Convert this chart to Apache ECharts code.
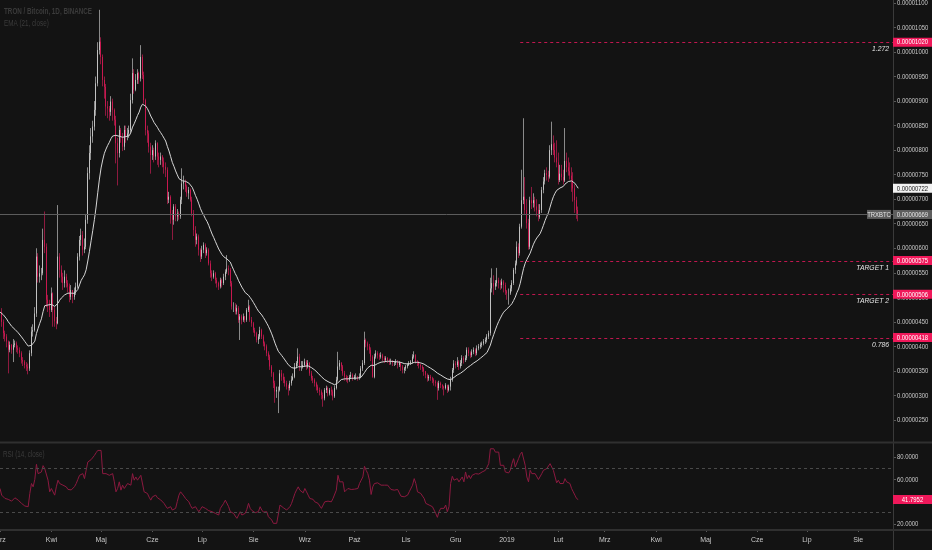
<!DOCTYPE html>
<html>
<head>
<meta charset="utf-8">
<script src="https://cdn.jsdelivr.net/npm/echarts@6/dist/echarts.min.js"></script>
<style>
html,body{margin:0;padding:0;background:#131313;}
#c{width:932px;height:550px;}
</style>
</head>
<body>
<div id="c"></div>
<script>
// ---- data (prices in 1e-8 BTC) ----
const startDate = '2018-03-01';
const totalDays = 540;
const firstOpen = 480;
const closes = [
470,450,427,420,410,393,403,393,403,406,
396,393,386,372,369,362,359,355,386,430,
433,467,583,542,549,549,617,603,495,488,
474,508,474,451,447,583,556,542,529,542,
529,522,501,515,501,512,522,583,617,627,
597,603,658,753,794,828,848,882,936,1004,
1021,990,943,929,889,885,878,899,882,862,
814,794,841,828,807,841,828,834,841,902,
957,923,943,957,946,990,953,902,841,834,
807,790,800,787,814,787,780,787,777,766,
760,699,705,671,658,685,665,671,665,699,
732,736,726,712,719,699,671,637,617,624,
597,583,597,607,590,597,569,549,542,549,
535,529,522,535,529,542,552,559,556,529,
481,481,471,478,454,461,454,461,454,474,
481,454,447,433,427,413,420,433,420,406,
400,386,379,359,345,325,308,311,311,345,
338,332,325,318,315,325,332,338,359,366,
379,359,359,362,369,359,366,345,335,332,
325,318,311,308,301,294,311,315,304,311,
308,298,315,332,359,366,359,345,338,335,
332,338,342,335,338,338,335,338,355,366,
413,406,400,393,379,338,379,386,382,379,
382,376,372,376,372,369,369,366,366,369,
362,366,359,352,355,359,362,366,369,379,
382,369,366,362,359,355,349,342,335,338,
335,332,328,325,315,325,321,318,315,321,
311,318,332,352,365,362,369,359,366,376,
372,376,393,386,382,389,393,386,396,400,
403,406,410,413,420,427,518,529,522,529,
535,529,525,532,525,512,508,508,518,529,
556,569,603,590,644,698,705,678,651,603,
698,692,698,685,678,664,678,719,736,753,
749,746,800,812,800,785,775,739,752,745,
738,778,765,757,748,740,722,698,678,669
];
const highs = [
490,478,455,432,425,412,410,405,415,412,
410,402,398,390,378,372,368,365,392,440,
445,480,600,590,565,560,640,675,610,505,
495,520,510,480,460,688,590,565,550,555,
548,535,528,525,515,520,530,590,625,640,
635,620,670,765,810,845,860,900,950,1020,
1086,1030,995,950,935,900,890,910,905,885,
870,825,850,845,835,850,850,845,850,915,
987,965,955,965,960,1014,995,960,905,850,
840,815,810,805,820,816,795,795,790,785,
775,765,715,708,678,690,690,680,675,705,
763,748,740,730,725,722,705,678,645,630,
628,600,605,612,610,602,600,575,555,555,
552,540,532,540,538,548,557,586,565,560,
533,490,488,485,482,466,465,467,462,478,
495,484,460,450,438,430,425,440,436,424,
410,404,390,383,362,348,330,318,318,352,
352,345,338,330,322,330,340,345,366,370,
396,385,370,370,375,372,372,368,350,340,
335,328,322,316,312,306,315,320,318,315,
318,312,320,338,389,372,368,362,350,342,
340,342,348,345,342,345,340,345,360,372,
430,416,410,405,398,382,385,392,390,386,
388,385,380,380,378,375,375,372,370,374,
372,370,368,362,358,362,366,370,372,384,
390,384,372,370,365,362,358,350,345,342,
342,338,335,331,328,330,328,323,320,325,
322,322,338,356,372,370,378,372,372,382,
380,382,398,398,390,394,398,396,402,405,
408,410,415,418,425,432,540,559,545,535,
560,540,535,538,535,530,515,518,525,535,
560,575,614,610,650,760,865,745,700,660,
705,725,712,705,700,690,690,725,745,760,
765,758,810,858,830,815,820,795,770,770,
760,845,795,785,775,765,755,730,705,685
];
const lows = [
455,440,415,410,398,345,388,385,368,398,
388,385,378,365,360,355,350,343,350,380,
420,430,460,530,530,535,545,590,480,470,
460,470,440,440,435,445,540,530,515,520,
520,510,490,495,488,495,505,518,575,605,
585,590,598,650,740,780,815,840,870,930,
995,975,930,905,870,865,860,870,860,850,
773,728,785,815,798,800,815,820,825,835,
895,915,920,935,935,940,945,895,830,815,
795,752,780,775,780,770,765,770,765,752,
745,690,692,650,617,648,655,655,658,660,
690,720,715,705,700,695,665,625,603,608,
585,572,578,590,580,585,565,540,533,538,
528,520,515,518,520,525,535,548,545,522,
475,470,465,465,448,413,445,450,448,450,
470,450,440,428,420,408,405,415,415,400,
392,380,372,352,338,315,285,295,264,308,
330,325,318,312,300,310,320,330,335,355,
360,350,350,355,358,352,355,340,330,325,
318,310,305,300,292,277,290,305,298,300,
300,290,295,312,328,352,350,340,330,328,
325,328,335,330,332,332,330,332,335,350,
362,398,392,385,370,336,335,375,375,372,
375,370,366,368,366,362,363,360,360,362,
355,358,350,345,345,350,355,360,362,365,
375,365,360,355,352,348,340,335,328,330,
330,325,320,318,291,310,315,312,300,312,
305,308,310,328,346,355,358,352,355,360,
365,368,372,380,376,378,384,380,382,392,
395,398,402,405,408,415,422,510,505,515,
522,518,515,518,510,505,495,485,505,512,
525,548,565,580,585,640,690,670,640,597,
598,680,683,675,665,655,660,672,712,730,
738,735,742,790,790,775,765,730,735,738,
730,735,755,748,740,715,695,672,660,655
];
const rsiValues = [
51.8,45.8,44.0,42.8,42.5,42.0,41.0,40.4,42.0,43.4,
42.5,41.3,40.0,38.4,37.0,36.0,35.5,35.4,47.3,56.3,
53.3,59.9,73.6,65.2,65.2,66.7,72.4,69.7,69.7,59.3,
48.8,51.8,50.3,45.8,53.3,59.3,56.3,55.5,54.8,54.0,
53.3,51.0,49.4,50.5,50.9,53.5,56.3,60.0,63.7,62.2,
65.2,60.7,68.2,75.7,76.5,77.8,79.5,81.6,84.0,86.1,
87.6,86.1,65.2,65.0,65.2,64.5,63.7,64.5,65.2,57.8,
48.8,51.8,57.8,50.3,54.8,51.8,54.0,56.3,55.5,54.8,
65.2,59.3,62.2,59.3,60.7,63.7,62.2,48.8,50.3,47.3,
44.0,41.3,44.3,45.0,45.8,43.5,42.0,41.5,41.3,38.4,
36.0,33.9,32.4,35.4,32.4,33.0,33.9,40.0,45.8,48.8,
47.3,45.0,42.8,41.0,39.8,36.5,33.9,34.5,35.4,33.0,
30.9,33.0,35.4,33.9,33.9,32.8,31.8,31.3,30.9,30.0,
29.4,28.5,27.9,33.9,35.4,38.4,41.3,39.8,35.4,30.9,
30.9,29.4,27.0,24.9,27.9,30.9,27.9,29.4,29.4,33.0,
38.4,33.9,32.0,30.9,30.0,29.4,31.0,35.4,32.4,30.5,
29.4,30.9,26.4,27.9,23.4,20.4,18.9,20.4,21.9,36.9,
35.4,34.5,33.9,32.4,30.9,35.4,38.4,42.8,47.3,50.5,
53.3,50.3,48.8,47.9,51.8,48.8,45.8,42.8,41.3,42.0,
39.8,39.0,38.4,36.0,33.9,32.4,39.8,40.0,40.4,40.0,
39.8,42.8,44.3,50.3,63.7,57.8,56.3,57.8,48.8,50.3,
51.8,51.3,50.9,51.0,51.2,51.5,51.8,56.3,59.3,62.2,
71.8,68.2,65.2,59.3,46.4,53.3,56.3,56.6,56.9,55.8,
54.8,54.8,54.8,54.8,54.8,52.8,50.9,50.6,50.3,48.8,
50.9,49.7,44.9,44.6,44.3,45.0,45.8,48.8,50.3,54.8,
60.7,56.3,48.8,49.4,47.3,45.0,42.8,38.4,38.4,36.9,
36.9,35.4,33.9,29.4,25.8,30.9,33.9,32.4,33.9,36.9,
30.9,35.4,56.3,62.8,59.3,59.3,60.7,57.8,59.3,62.2,
57.8,66.7,60.7,63.7,60.7,63.7,62.2,65.2,64.3,64.8,
65.2,66.7,66.7,68.2,70.0,74.2,87.6,88.5,87.6,84.6,
84.6,84.6,72.7,74.2,72.7,66.7,65.2,65.8,68.2,74.2,
78.7,71.2,72.7,78.7,82.5,84.6,83.6,72.7,62.2,57.8,
68.2,65.2,66.7,65.2,63.7,59.9,60.7,65.2,68.2,68.8,
69.7,71.2,74.2,75.7,68.2,66.7,56.9,59.3,56.3,57.8,
56.3,60.7,57.8,56.3,56.3,51.8,48.8,45.8,42.8,41.7952
];
const levelValues = [1020, 575, 506, 418];
const levelLabels = ['1.272', 'TARGET 1', 'TARGET 2', '0.786'];
const levelStartDay = 314;
const priceTicks = [250,300,350,400,450,500,550,600,650,700,750,800,850,900,950,1000,1050,1100];
const rsiTicks = [20,40,60,80];
const rsiBands = [70, 30];
const monthNames = ['Sty','Lut','Mrz','Kwi','Maj','Cze','Lip','Sie','Wrz','Paź','Lis','Gru'];
const symbolName = 'TRXBTC';
const titleText = 'TRON / Bitcoin, 1D, BINANCE';
const emaText = 'EMA (21, close)';
const rsiText = 'RSI (14, close)';
const emaPeriod = 21;

// ---- build ----
const cats = [];
const t0 = Date.UTC(+startDate.slice(0,4), +startDate.slice(5,7)-1, +startDate.slice(8,10));
for (let i = 0; i < totalDays; i++) cats.push(new Date(t0 + i*86400000).toISOString().slice(0,10));
const opens = closes.map((c,i) => i === 0 ? firstOpen : closes[i-1]);
const wickData = closes.map((c,i) => [opens[i], c, lows[i], highs[i]]);
const bodyData = closes.map((c,i) => [opens[i], c, Math.min(opens[i], c), Math.max(opens[i], c)]);
const ema = [];
const kk = 2/(emaPeriod+1);
closes.forEach((c,i) => ema.push(i === 0 ? c : c*kk + ema[i-1]*(1-kk)));
const lastClose = closes[closes.length-1];
const lastEma = ema[ema.length-1];
const lastRsi = rsiValues[rsiValues.length-1];

const FONT = '"Liberation Sans",Arial,sans-serif';
const SX = 0.74; // horizontal squeeze to mimic the narrow UI font
const fmtPrice = v => (v/1e8).toFixed(8);
const isMonthStart = (idx, val) => String(val).slice(8) === '01';
const monthLabel = val => { const m = +val.slice(5,7) - 1; return m === 0 ? val.slice(0,4) : monthNames[m]; };

const RED = '#f0185a';
const chart = echarts.init(document.getElementById('c'), null, {renderer:'canvas', width:932, height:550});

chart.setOption({
  animation: false,
  backgroundColor: '#131313',
  grid: [
    {left:0, right:39, top:0, height:444.5, containLabel:false, outerBoundsMode:'none'},
    {left:0, right:39, top:443, height:86, containLabel:false, outerBoundsMode:'none'}
  ],
  xAxis: [
    {type:'category', gridIndex:0, data:cats, boundaryGap:false,
     axisLine:{show:false}, axisTick:{show:false}, axisLabel:{show:false}, splitLine:{show:false}},
    {type:'category', gridIndex:1, data:cats, boundaryGap:false,
     axisLine:{show:false},
     axisTick:{show:true, interval:isMonthStart, length:3, lineStyle:{color:'#5a5a5a'}},
     axisLabel:{show:true, interval:isMonthStart, formatter:monthLabel, color:'#c8c8c8',
                fontSize:7, fontFamily:FONT, margin:8, hideOverlap:false},
     splitLine:{show:false}}
  ],
  yAxis: [
    {type:'value', gridIndex:0, position:'right', min:200, max:1106, interval:50,
     axisLine:{show:false},
     axisTick:{show:true, length:3, lineStyle:{color:'#5a5a5a'}, customValues:priceTicks},
     axisLabel:{show:false},
     splitLine:{show:false}},
    {type:'value', gridIndex:1, position:'right', min:15.3, max:92.8,
     axisLine:{show:false},
     axisTick:{show:true, length:3, lineStyle:{color:'#5a5a5a'}, customValues:rsiTicks},
     axisLabel:{show:false},
     splitLine:{show:false}}
  ],
  series: [
    {
      name:'wick', type:'candlestick', xAxisIndex:0, yAxisIndex:0, data:wickData,
      barWidth:1, silent:true, emphasis:{disabled:true},
      itemStyle:{color:'#8a8a8a', color0:'#8e1a3f', borderColor:'#8a8a8a', borderColor0:'#8e1a3f', borderWidth:1}
    },
    {
      name:'body', type:'candlestick', xAxisIndex:0, yAxisIndex:0, data:bodyData,
      barWidth:1.3, silent:true, emphasis:{disabled:true},
      itemStyle:{color:'#e6e6e6', color0:RED, borderColor:'#e6e6e6', borderColor0:RED, borderWidth:0.6},
      markLine:{
        silent:true, symbol:'none', animation:false,
        lineStyle:{color:'#5c5c5c', type:'solid', width:1},
        label:{show:false},
        data:[{yAxis:lastClose}]
      }
    },
    {
      name:'EMA', type:'line', xAxisIndex:0, yAxisIndex:0, data:ema,
      showSymbol:false, symbol:'none', silent:true,
      lineStyle:{color:'#d6d6d6', width:1}, emphasis:{disabled:true}
    },
    {
      name:'RSI', type:'line', xAxisIndex:1, yAxisIndex:1, data:rsiValues,
      showSymbol:false, symbol:'none', silent:true,
      lineStyle:{color:'#8c1a40', width:1}, emphasis:{disabled:true},
      markLine:{
        silent:true, symbol:'none', animation:false,
        lineStyle:{color:'#4a4a4a', type:[3,3], width:1},
        label:{show:false},
        data: rsiBands.map(v => ({yAxis:v}))
      }
    }
  ]
});

// ---- overlay: separators, captions, level lines, axis labels and tags positioned through the axes ----
const g = [];
g.push({type:'line', silent:true, z:50, shape:{x1:893.5, y1:0, x2:893.5, y2:550}, style:{stroke:'#3a3a3a', lineWidth:1}});
g.push({type:'line', silent:true, z:50, shape:{x1:0, y1:442.5, x2:932, y2:442.5}, style:{stroke:'#303030', lineWidth:2}});
g.push({type:'line', silent:true, z:50, shape:{x1:0, y1:530, x2:932, y2:530}, style:{stroke:'#303030', lineWidth:2}});
function caption(x, y, text, bold) {
  g.push({type:'text', silent:true, z:60, x:x, y:y, scaleX:SX,
          style:{text:text, fill:'#3b3b3b', font:(bold ? 'bold ' : '') + '8.5px ' + FONT, verticalAlign:'middle'}});
}
caption(4, 12, titleText, true);
caption(4, 24, emaText, false);
caption(3, 455, rsiText, false);

// Fibonacci / target levels (crisp dashed lines from the start day to the price axis)
const xLevelStart = chart.convertToPixel({xAxisIndex:0}, cats[levelStartDay]);
levelValues.forEach((v, i) => {
  const y = Math.round(chart.convertToPixel({yAxisIndex:0}, v)) + 0.5;
  g.push({type:'line', silent:true, z:40, shape:{x1:xLevelStart, y1:y, x2:893, y2:y},
          style:{stroke:'#c0174f', lineWidth:1, lineDash:[3,3]}});
  g.push({type:'text', silent:true, z:45, x:889, y:y + 6, scaleX:0.85,
          style:{text:levelLabels[i], fill:'#e4e4e4', font:'italic 8px ' + FONT, align:'right', verticalAlign:'middle'}});
});

function axisText(y, text) {
  g.push({type:'text', silent:true, z:55, x:897, y:y, scaleX:SX,
          style:{text:text, fill:'#c8c8c8', font:'8px ' + FONT, verticalAlign:'middle'}});
}
priceTicks.forEach(v => axisText(chart.convertToPixel({yAxisIndex:0}, v), fmtPrice(v)));
rsiTicks.forEach(v => axisText(chart.convertToPixel({yAxisIndex:1}, v), v.toFixed(4)));

function tag(y, text, bg, fg, x, w) {
  x = x === undefined ? 893 : x; w = w === undefined ? 39 : w;
  g.push({type:'rect', silent:true, z:70, shape:{x:x, y:y-4.5, width:w, height:9}, style:{fill:bg}});
  g.push({type:'text', silent:true, z:71, x:x + w/2, y:y, scaleX:SX,
          style:{text:text, fill:fg, font:'8px ' + FONT, align:'center', verticalAlign:'middle'}});
}
levelValues.forEach(v => tag(chart.convertToPixel({yAxisIndex:0}, v), fmtPrice(v), RED, '#ffffff'));
tag(chart.convertToPixel({yAxisIndex:0}, lastEma), fmtPrice(Math.round(lastEma)), '#f2f2f2', '#1a1a1a');
const yLast = chart.convertToPixel({yAxisIndex:0}, lastClose);
tag(yLast, fmtPrice(lastClose), '#5e5e5e', '#e6e6e6');
tag(yLast, symbolName, '#5e5e5e', '#e6e6e6', 867, 24);
tag(chart.convertToPixel({yAxisIndex:1}, lastRsi), lastRsi.toFixed(4), RED, '#ffffff');

chart.setOption({graphic: g});
</script>
</body>
</html>
